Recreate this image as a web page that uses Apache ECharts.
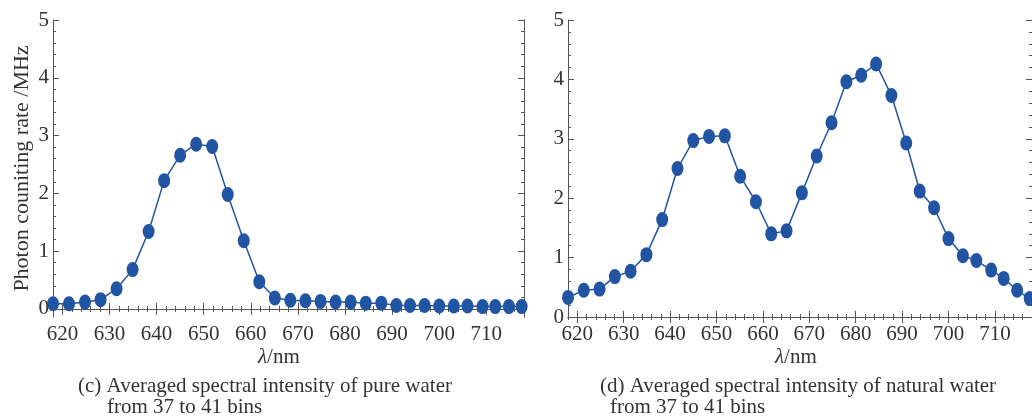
<!DOCTYPE html>
<html>
<head>
<meta charset="utf-8">
<script src="https://cdn.jsdelivr.net/npm/echarts@6/dist/echarts.min.js"></script>
<style>
  html, body { margin: 0; padding: 0; background: #fff; }
  #main { width: 1032px; height: 418px; }
</style>
</head>
<body>
<div id="main"></div>
<script>
// wavelength of each bin (nm)
var wavelength = [618.0, 621.4, 624.8, 628.1, 631.5, 634.9, 638.3, 641.6, 645.0, 648.4,
  651.8, 655.1, 658.5, 661.8, 665.1, 668.4, 671.6, 674.8, 678.0, 681.2,
  684.4, 687.7, 690.9, 693.8, 696.9, 700.0, 703.1, 706.0, 709.2, 711.9, 714.8, 717.5];
// (c) pure water, MHz
var pureWater = [0.09, 0.09, 0.12, 0.16, 0.35, 0.68, 1.34, 2.22, 2.66, 2.85,
  2.81, 1.98, 1.18, 0.47, 0.19, 0.15, 0.14, 0.13, 0.12, 0.12,
  0.10, 0.10, 0.06, 0.06, 0.06, 0.05, 0.05, 0.05, 0.04, 0.04, 0.04, 0.04];
// (d) natural water, MHz
var naturalWater = [0.33, 0.45, 0.47, 0.68, 0.77, 1.05, 1.64, 2.50, 2.97, 3.04,
  3.05, 2.37, 1.94, 1.40, 1.45, 2.09, 2.71, 3.27, 3.96, 4.07,
  4.26, 3.73, 2.93, 2.12, 1.84, 1.32, 1.03, 0.95, 0.79, 0.65, 0.45, 0.31];

var xMajor = [620, 630, 640, 650, 660, 670, 680, 690, 700, 710];
var yMajor = [0, 1, 2, 3, 4, 5];
var xMinor = [];
for (var v = 618; v <= 718; v += 2) xMinor.push(v);
var yMinor = [];
for (var k = 0; k <= 25; k++) yMinor.push(+(k * 0.2).toFixed(1));

var FONT = '"Liberation Serif", "Times New Roman", serif';
var TXT = '#333';
var AX = '#555';
var BLUE = '#2254a4';

var xAxes = [], yAxes = [];

function addAxes(g, yMin, yName) {
  var base = xAxes.length;
  // bottom main with labels
  xAxes.push({
    type: 'value', gridIndex: g, position: 'bottom', min: 618, max: 718,
    axisLine: { show: true, lineStyle: { color: AX, width: 1 } },
    axisTick: { show: true, inside: true, length: 6, customValues: xMajor, lineStyle: { color: AX } },
    axisLabel: { customValues: xMajor, margin: 7, color: TXT, fontFamily: FONT, fontSize: 21 },
    splitLine: { show: false }
  });
  // bottom minor, top major, top minor
  [['bottom', 3, xMinor], ['top', 6, xMajor], ['top', 3, xMinor]].forEach(function (d) {
    xAxes.push({
      type: 'value', gridIndex: g, position: d[0], min: 618, max: 718,
      axisLine: { show: d[0] === 'top', lineStyle: { color: AX, width: 1 } },
      axisTick: { show: true, inside: true, length: d[1], customValues: d[2], lineStyle: { color: AX } },
      axisLabel: { show: false }, splitLine: { show: false }
    });
  });
  var ybase = yAxes.length;
  yAxes.push({
    type: 'value', gridIndex: g, position: 'left', min: yMin, max: 5,
    axisLine: { show: true, lineStyle: { color: AX, width: 1 } },
    axisTick: { show: true, inside: true, length: 6, customValues: yMajor, lineStyle: { color: AX } },
    axisLabel: { customValues: yMajor, margin: 4, color: TXT, fontFamily: FONT, fontSize: 21 },
    splitLine: { show: false },
    name: yName, nameLocation: 'middle', nameGap: 20, nameMoveOverlap: false,
    nameTextStyle: { color: TXT, fontFamily: FONT, fontSize: 22 }
  });
  [['left', 3, yMinor], ['right', 6, yMajor], ['right', 3, yMinor]].forEach(function (d) {
    yAxes.push({
      type: 'value', gridIndex: g, position: d[0], min: yMin, max: 5,
      axisLine: { show: d[0] === 'right', lineStyle: { color: AX, width: 1 } },
      axisTick: { show: true, inside: true, length: d[1], customValues: d[2], lineStyle: { color: AX } },
      axisLabel: { show: false }, splitLine: { show: false }
    });
  });
  return [base, ybase];
}

var a0 = addAxes(0, -0.14, 'Photon couniting rate /MHz');
var a1 = addAxes(1, 0, '');

function pairs(ys) {
  return wavelength.map(function (x, i) { return [x, ys[i]]; });
}

function lineSeries(ax, ys) {
  return {
    type: 'line', xAxisIndex: ax[0], yAxisIndex: ax[1], data: pairs(ys),
    symbol: 'circle', symbolSize: [12, 15], showAllSymbol: true,
    itemStyle: { color: BLUE },
    lineStyle: { color: BLUE, width: 1.5 },
    animation: false, silent: true
  };
}

// x axis title and the two caption lines, placed by the top of their text box
function texts(xName, x1, x2, line1, line2) {
  return [
    { type: 'text', left: xName, top: 347, style: { text: '{i|λ}/nm', fill: TXT, fontFamily: FONT, fontSize: 21,
      rich: { i: { fontStyle: 'italic', fontFamily: FONT, fontSize: 21, fill: TXT } } } },
    { type: 'text', left: x1, top: 376, style: { text: line1, fill: TXT, fontFamily: FONT, fontSize: 21 } },
    { type: 'text', left: x2, top: 397, style: { text: line2, fill: TXT, fontFamily: FONT, fontSize: 21 } }
  ];
}

var chart = echarts.init(document.getElementById('main'));
chart.setOption({
  animation: false,
  grid: [
    { left: 53, top: 20, width: 471, height: 297 },
    { left: 568, top: 20, width: 467, height: 297 }
  ],
  xAxis: xAxes,
  yAxis: yAxes,
  series: [lineSeries(a0, pureWater), lineSeries(a1, naturalWater)],
  graphic: texts(258, 78, 107, '(c) Averaged spectral intensity of pure water', 'from 37 to 41 bins')
    .concat(texts(775, 600, 610, '(d) Averaged spectral intensity of natural water', 'from 37 to 41 bins'))
});
</script>
</body>
</html>
